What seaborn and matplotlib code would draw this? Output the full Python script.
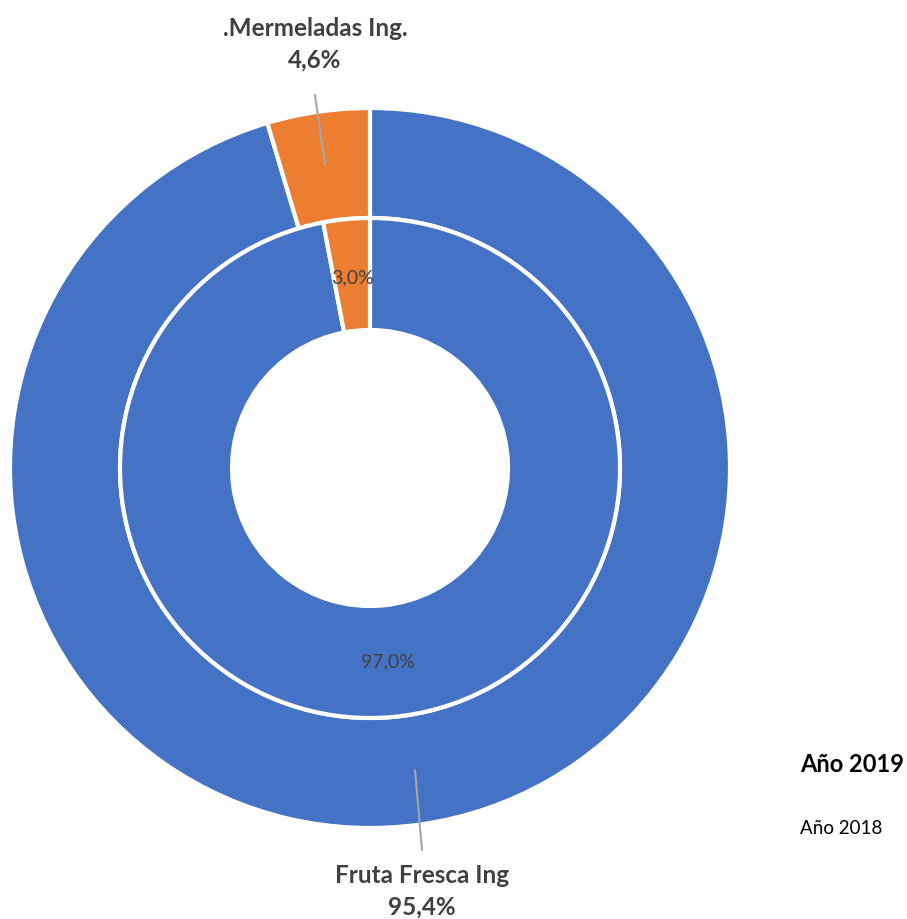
import numpy as np
import matplotlib
matplotlib.use("Agg")
import matplotlib.pyplot as plt
import seaborn as sns

categories = ["Fruta Fresca Ing", ".Mermeladas Ing."]
outer_2019 = [95.4, 4.6]
inner_2018 = [97.0, 3.0]
series = ["Año 2019", "Año 2018"]
colors = ["#4472C4", "#ED7D31"]

sns.set_theme(style="white")
plt.rcParams["font.family"] = ["Lato", "DejaVu Sans"]

W, H = 907, 919
fig = plt.figure(figsize=(W / 100, H / 100), dpi=100)
ax = fig.add_axes([0, 0, 1, 1])

cx, cy = 370, H - 468
edge = dict(edgecolor="white", linewidth=3)

ax.pie(outer_2019, colors=colors, startangle=90, counterclock=False,
       radius=360, center=(cx, cy), wedgeprops=dict(width=110, **edge), frame=True)
ax.pie(inner_2018, colors=colors, startangle=90, counterclock=False,
       radius=250, center=(cx, cy), wedgeprops=dict(width=112, **edge), frame=True)
ax.set_xlim(0, W)
ax.set_ylim(0, H)
ax.set_aspect("equal")
ax.axis("off")

def fmt(v):
    return f"{v:.1f}%".replace(".", ",")

lab = "#404040"
# outer labels with leader lines
ax.plot([315, 325], [H - 95, H - 165], color="#A6A6A6", lw=1.5)
ax.text(315, H - 44, f"{categories[1]}\n{fmt(outer_2019[1])}", ha="center", va="center",
        fontsize=17.5, fontweight="bold", color=lab, linespacing=1.45)
ax.plot([415, 422], [H - 770, H - 850], color="#A6A6A6", lw=1.5)
ax.text(422, H - 891, f"{categories[0]}\n{fmt(outer_2019[0])}", ha="center", va="center",
        fontsize=17.5, fontweight="bold", color=lab, linespacing=1.45)

# inner labels
ax.text(352, H - 278, fmt(inner_2018[1]), ha="center", va="center", fontsize=14, color=lab)
ax.text(388, H - 662, fmt(inner_2018[0]), ha="center", va="center", fontsize=14, color=lab)

# legend as text
ax.text(800, H - 765, series[0], ha="left", va="center", fontsize=17, fontweight="bold", color="black")
ax.text(800, H - 828, series[1], ha="left", va="center", fontsize=13.5, color="black")

fig.savefig("out.png", dpi=100)
